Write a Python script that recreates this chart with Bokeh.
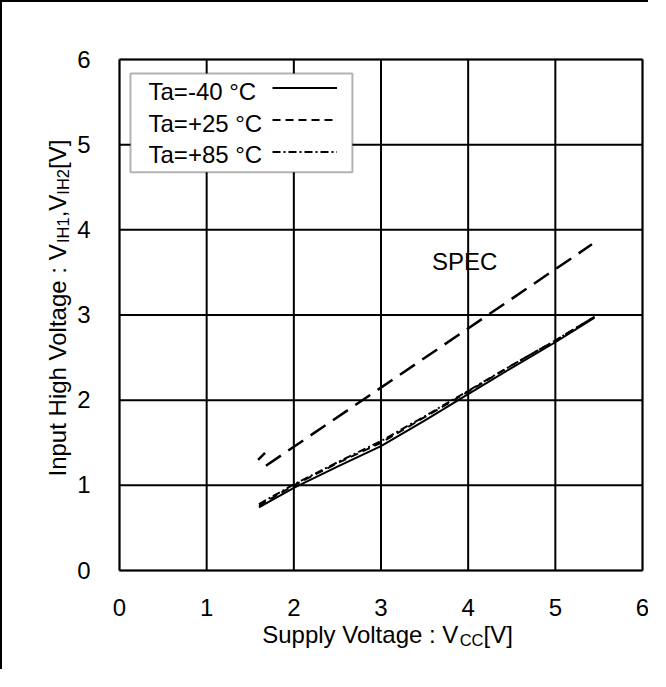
import math
from bokeh.plotting import figure
from bokeh.models import (Range1d, Label, BoxAnnotation, Legend, LegendItem)
from bokeh.embed import file_html
from bokeh.resources import INLINE

# ---- data ----
vcc = [1.6, 2.0, 2.5, 3.0, 3.5, 4.0, 4.5, 5.0, 5.45]
vih_m40 = [0.74, 0.97, 1.22, 1.46, 1.76, 2.07, 2.38, 2.68, 2.97]
vih_p25 = [0.76, 1.00, 1.26, 1.50, 1.80, 2.10, 2.41, 2.70, 2.98]
vih_p85 = [0.78, 1.01, 1.27, 1.52, 1.81, 2.11, 2.41, 2.70, 2.98]
spec_lo_vcc = [1.59, 1.67]
spec_lo_vih = [1.30, 1.38]
spec_vcc = [1.68, 5.42]
spec_vih = [1.23, 3.83]
legend_labels = ["Ta=-40 °C", "Ta=+25 °C", "Ta=+85 °C"]
ticks = [0, 1, 2, 3, 4, 5, 6]
tick_labels = ["0", "1", "2", "3", "4", "5", "6"]
x_min, x_max = 0, 6
y_min, y_max = 0, 6

FONT = "Liberation Sans"
FS = 24
SUB = 16.5

W = {' ': 278, 'S': 667, 'u': 556, 'p': 556, 'l': 222, 'y': 500, 'V': 667, 'o': 556,
     't': 278, 'a': 556, 'g': 556, 'e': 556, ':': 278, 'C': 722, '[': 278, ']': 278,
     'I': 278, 'n': 556, 'H': 722, 'i': 222, 'h': 556, '1': 556, '2': 556, ',': 278}


def tw(s, size):
    return sum(W.get(c, 556) for c in s) * size / 1000.0


def desc(size):
    return 0.212 * size


# canvas and plot-area geometry (px)
CW, CH = 648, 669
PL, PR, PT, PB = 117, 640, 57, 568
ux = (PR - PL) / (x_max - x_min)
uy = (PB - PT) / (y_max - y_min)
xr = Range1d(x_min - PL / ux, x_max + (CW - PR) / ux)
yr = Range1d(y_min - (CH - PB) / uy, y_max + PT / uy)

p = figure(width=CW, height=CH, output_backend="svg", toolbar_location=None,
           x_range=xr, y_range=yr, x_axis_location=None, y_axis_location=None,
           min_border=0)
p.styles = {"border-left": "2px solid black", "border-top": "2px solid black"}
p.outline_line_color = None
p.xgrid.visible = False
p.ygrid.visible = False

# grid lines at the ticks, limited to the plot area
p.segment(x0=ticks, x1=ticks, y0=[y_min] * len(ticks), y1=[y_max] * len(ticks),
          line_color="black", line_width=2)
p.segment(x0=[x_min] * len(ticks), x1=[x_max] * len(ticks), y0=ticks, y1=ticks,
          line_color="black", line_width=2)

r1 = p.line(vcc, vih_m40, line_color="black", line_width=2)
r2 = p.line(vcc, vih_p25, line_color="black", line_width=2, line_dash="8 5")
r3 = p.line(vcc, vih_p85, line_color="black", line_width=2, line_dash="8 3 2 3")
p.line(spec_lo_vcc, spec_lo_vih, line_color="black", line_width=2.5, line_dash="10 6")
p.line(spec_vcc, spec_vih, line_color="black", line_width=2.5, line_dash="18 9")

# plot-area border
p.add_layout(BoxAnnotation(left=x_min, right=x_max, bottom=y_min, top=y_max,
                           fill_alpha=0, line_color="black", line_width=2.5))

# tick labels
for t, s in zip(ticks, tick_labels):
    p.add_layout(Label(x=t, y=y_min, text=s, y_offset=-(40 + desc(FS)), text_font=FONT,
                       text_font_size=f"{FS}px", text_align="center",
                       text_baseline="bottom", text_color="black"))
    p.add_layout(Label(x=x_min, y=t, text=s, x_offset=-29, y_offset=-(3 + desc(FS)),
                       text_font=FONT, text_font_size=f"{FS}px", text_align="right",
                       text_baseline="bottom", text_color="black"))

# ---- legend (text left, line sample right, as in the original) ----
p.add_layout(BoxAnnotation(left=0.126, right=2.672, top=5.836, bottom=4.676,
                           fill_color="white", fill_alpha=1, line_color="black",
                           line_width=2, level="overlay"))
leg = Legend(items=[LegendItem(label=" ", renderers=[r]) for r in (r1, r2, r3)],
             location=(PL + 153, (CH - PB) + 403), glyph_width=65, glyph_height=31,
             label_height=31, label_width=1, label_standoff=0, spacing=1, padding=0,
             margin=0, border_line_alpha=0, background_fill_alpha=0,
             label_text_font_size="2px")
p.add_layout(leg, "center")
for lab, yv in zip(legend_labels, [5.462, 5.091, 4.727]):
    p.add_layout(Label(x=0.333, y=yv, text=lab, text_font=FONT, text_font_size=f"{FS}px",
                       text_baseline="bottom", text_align="left", text_color="black",
                       level="overlay"))

p.add_layout(Label(x=3.586, y=3.474, text="SPEC", text_font=FONT, text_font_size=f"{FS}px",
                   text_baseline="bottom", text_align="left", text_color="black"))

# ---- axis titles (pieces for the subscripts) ----
xpos = 142.7
for t, sz, dy in [("Supply Voltage : V", FS, 0), ("CC", SUB, 3), ("[V]", FS, 0)]:
    p.add_layout(Label(x=x_min, y=y_min, x_offset=xpos, y_offset=-(72.3 + dy + desc(sz)),
                       text=t, text_font=FONT, text_font_size=f"{sz}px",
                       text_baseline="bottom", text_align="left", text_color="black"))
    xpos += tw(t, sz)

ypos = 94.0
for t, sz, dx in [("Input High Voltage : V", FS, 0), ("IH1", SUB, 3), (",V", FS, 0),
                  ("IH2", SUB, 3), ("[V]", FS, 0)]:
    p.add_layout(Label(x=x_min, y=y_min, x_offset=-54 + dx + desc(sz), y_offset=ypos,
                       text=t, text_font=FONT, text_font_size=f"{sz}px",
                       text_baseline="bottom", text_align="left", angle=math.pi / 2,
                       text_color="black"))
    ypos += tw(t, sz)

open("out.html", "w").write(file_html(p, INLINE))
